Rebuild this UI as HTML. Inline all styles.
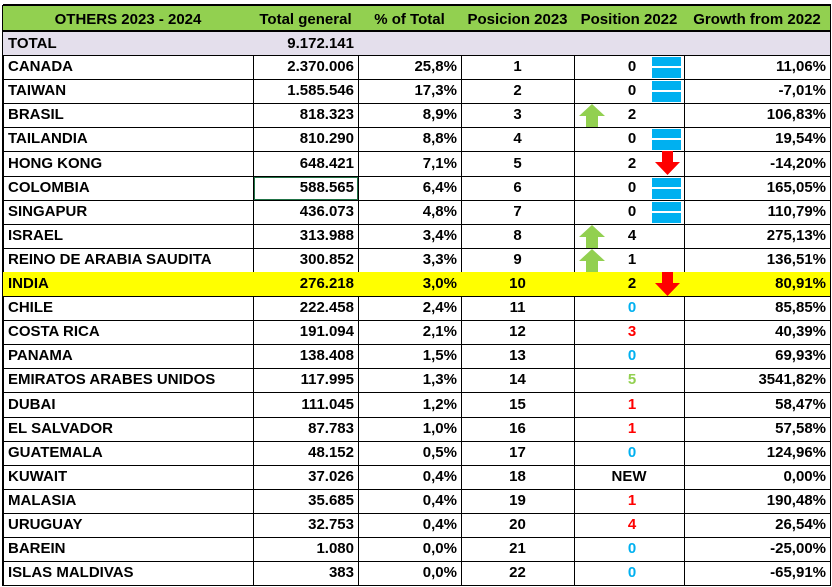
<!DOCTYPE html>
<html><head><meta charset="utf-8">
<style>
body{margin:0;width:832px;height:587px;background:#fff;position:relative;overflow:hidden;font-family:"Liberation Sans",Arial,sans-serif;font-weight:bold;font-size:15px;color:#000}
.c{position:absolute;box-sizing:border-box;border-right:1px solid #000;border-bottom:1px solid #000;line-height:23px;white-space:nowrap;overflow:hidden}
.l{text-align:left;padding-left:5px}.r{text-align:right;padding-right:4px}.m{text-align:center}
.ic{position:absolute}
</style></head><body>
<div id="grid"></div>
<script>
const countries=["CANADA","TAIWAN","BRASIL","TAILANDIA","HONG KONG","COLOMBIA","SINGAPUR","ISRAEL","REINO DE ARABIA SAUDITA","INDIA","CHILE","COSTA RICA","PANAMA","EMIRATOS ARABES UNIDOS","DUBAI","EL SALVADOR","GUATEMALA","KUWAIT","MALASIA","URUGUAY","BAREIN","ISLAS MALDIVAS"];
const totals=["2.370.006","1.585.546","818.323","810.290","648.421","588.565","436.073","313.988","300.852","276.218","222.458","191.094","138.408","117.995","111.045","87.783","48.152","37.026","35.685","32.753","1.080","383"];
const pcts=["25,8%","17,3%","8,9%","8,8%","7,1%","6,4%","4,8%","3,4%","3,3%","3,0%","2,4%","2,1%","1,5%","1,3%","1,2%","1,0%","0,5%","0,4%","0,4%","0,4%","0,0%","0,0%"];
const pos2022=["0","0","2","0","2","0","0","4","1","2","0","3","0","5","1","1","0","NEW","1","4","0","0"];
const icons=["eq","eq","up","eq","down","eq","eq","up","up","down","","","","","","","","","","","",""];
const numColors=["","","","","","","","","","","b","r","b","g","r","r","b","","r","r","b","b"];
const growth=["11,06%","-7,01%","106,83%","19,54%","-14,20%","165,05%","110,79%","275,13%","136,51%","80,91%","85,85%","40,39%","69,93%","3541,82%","58,47%","57,58%","124,96%","0,00%","190,48%","26,54%","-25,00%","-65,91%"];
const cols=[3,253,358,461,574,684,830];
const g=document.getElementById('grid');
function cell(ci,top,h,txt,cls,bg){
  const d=document.createElement('div');
  d.className='c '+cls;
  d.style.left=cols[ci]+'px';d.style.top=top+'px';
  d.style.width=(cols[ci+1]-cols[ci]+1)+'px';d.style.height=h+'px';
  if(bg)d.style.background=bg;
  d.style.lineHeight=(h-1)+'px';
  d.textContent=txt;
  g.appendChild(d);return d;
}
const lb=document.createElement('div');


lb.style.cssText='position:absolute;left:2px;top:5px;width:2px;height:581px;background:#000';
g.appendChild(lb);
const heads=["OTHERS 2023 - 2024","Total general","% of Total","Posicion 2023","Position 2022","Growth from 2022"];
heads.forEach((h,i)=>{
  const d=cell(i,4,28,h,'m','#92D050');
  d.style.borderTop='2px solid #000';d.style.borderBottom='2px solid #000';
  
  
});
const tv=["TOTAL","9.172.141","","","",""];
tv.forEach((t,i)=>{
  const d=cell(i,32,24,t,i==0?'l':'r','#E4DFEC');
  
  
});
const colorMap={b:'#00B0F0',r:'#FF0000',g:'#92D050'};
for(let i=0;i<countries.length;i++){
  const top=Math.round(55+i*24.1), h=Math.round(55+(i+1)*24.1)-top+1;
  const bg=countries[i]=="INDIA"?'#FFFF00':'';
  let d=cell(0,top,h,countries[i],'l',bg);
  
  
  d=cell(1,top,h,totals[i],'r',bg);
  
  
  if(countries[i]=="COLOMBIA"){d.style.outline='1px solid #217346';d.style.outlineOffset='-2px';}
  d=cell(2,top,h,pcts[i],'r',bg);
  
  
  d=cell(3,top,h,String(i+1),'m',bg);
  
  
  d=cell(4,top,h,'','',bg);
  
  
  const s=document.createElement('span');
  s.style.cssText='position:absolute;top:0;'+(pos2022[i]=="NEW"?'left:0;width:100%;text-align:center;':'left:51px;width:14px;text-align:center;');
  if(numColors[i])s.style.color=colorMap[numColors[i]];
  s.textContent=pos2022[i];
  d.appendChild(s);
  const ic=icons[i];
  if(ic=='eq'){
    const e=document.createElement('div');
    
    
    e.style.cssText='position:absolute;left:78px;top:2px;width:29px;height:21px;background:linear-gradient(#00B0F0 0 9px,#fff 9px 11px,#00B0F0 11px 20px)';
    d.appendChild(e);
  } else if(ic=='up'){
    const e=document.createElementNS('http://www.w3.org/2000/svg','svg');
    
    
    e.setAttribute('width','28');e.setAttribute('height','24');
    e.style.cssText='position:absolute;left:4px;top:0px';
    e.innerHTML='<polygon points="14,1 27,13 20,13 20,24 8,24 8,13 1,13" fill="#92D050"/>';
    d.appendChild(e);
  } else if(ic=='down'){
    const e=document.createElementNS('http://www.w3.org/2000/svg','svg');
    
    
    e.setAttribute('width','28');e.setAttribute('height','26');
    e.style.cssText='position:absolute;left:80px;top:0px;overflow:visible';
    e.innerHTML='<polygon points="8,0 19,0 19,11 26,11 13.5,24 1,11 8,11" fill="#FF0000"/>';
    d.appendChild(e);
  }
  d=cell(5,top,h,growth[i],'r',bg);
  
  
}
</script>
</body></html>
